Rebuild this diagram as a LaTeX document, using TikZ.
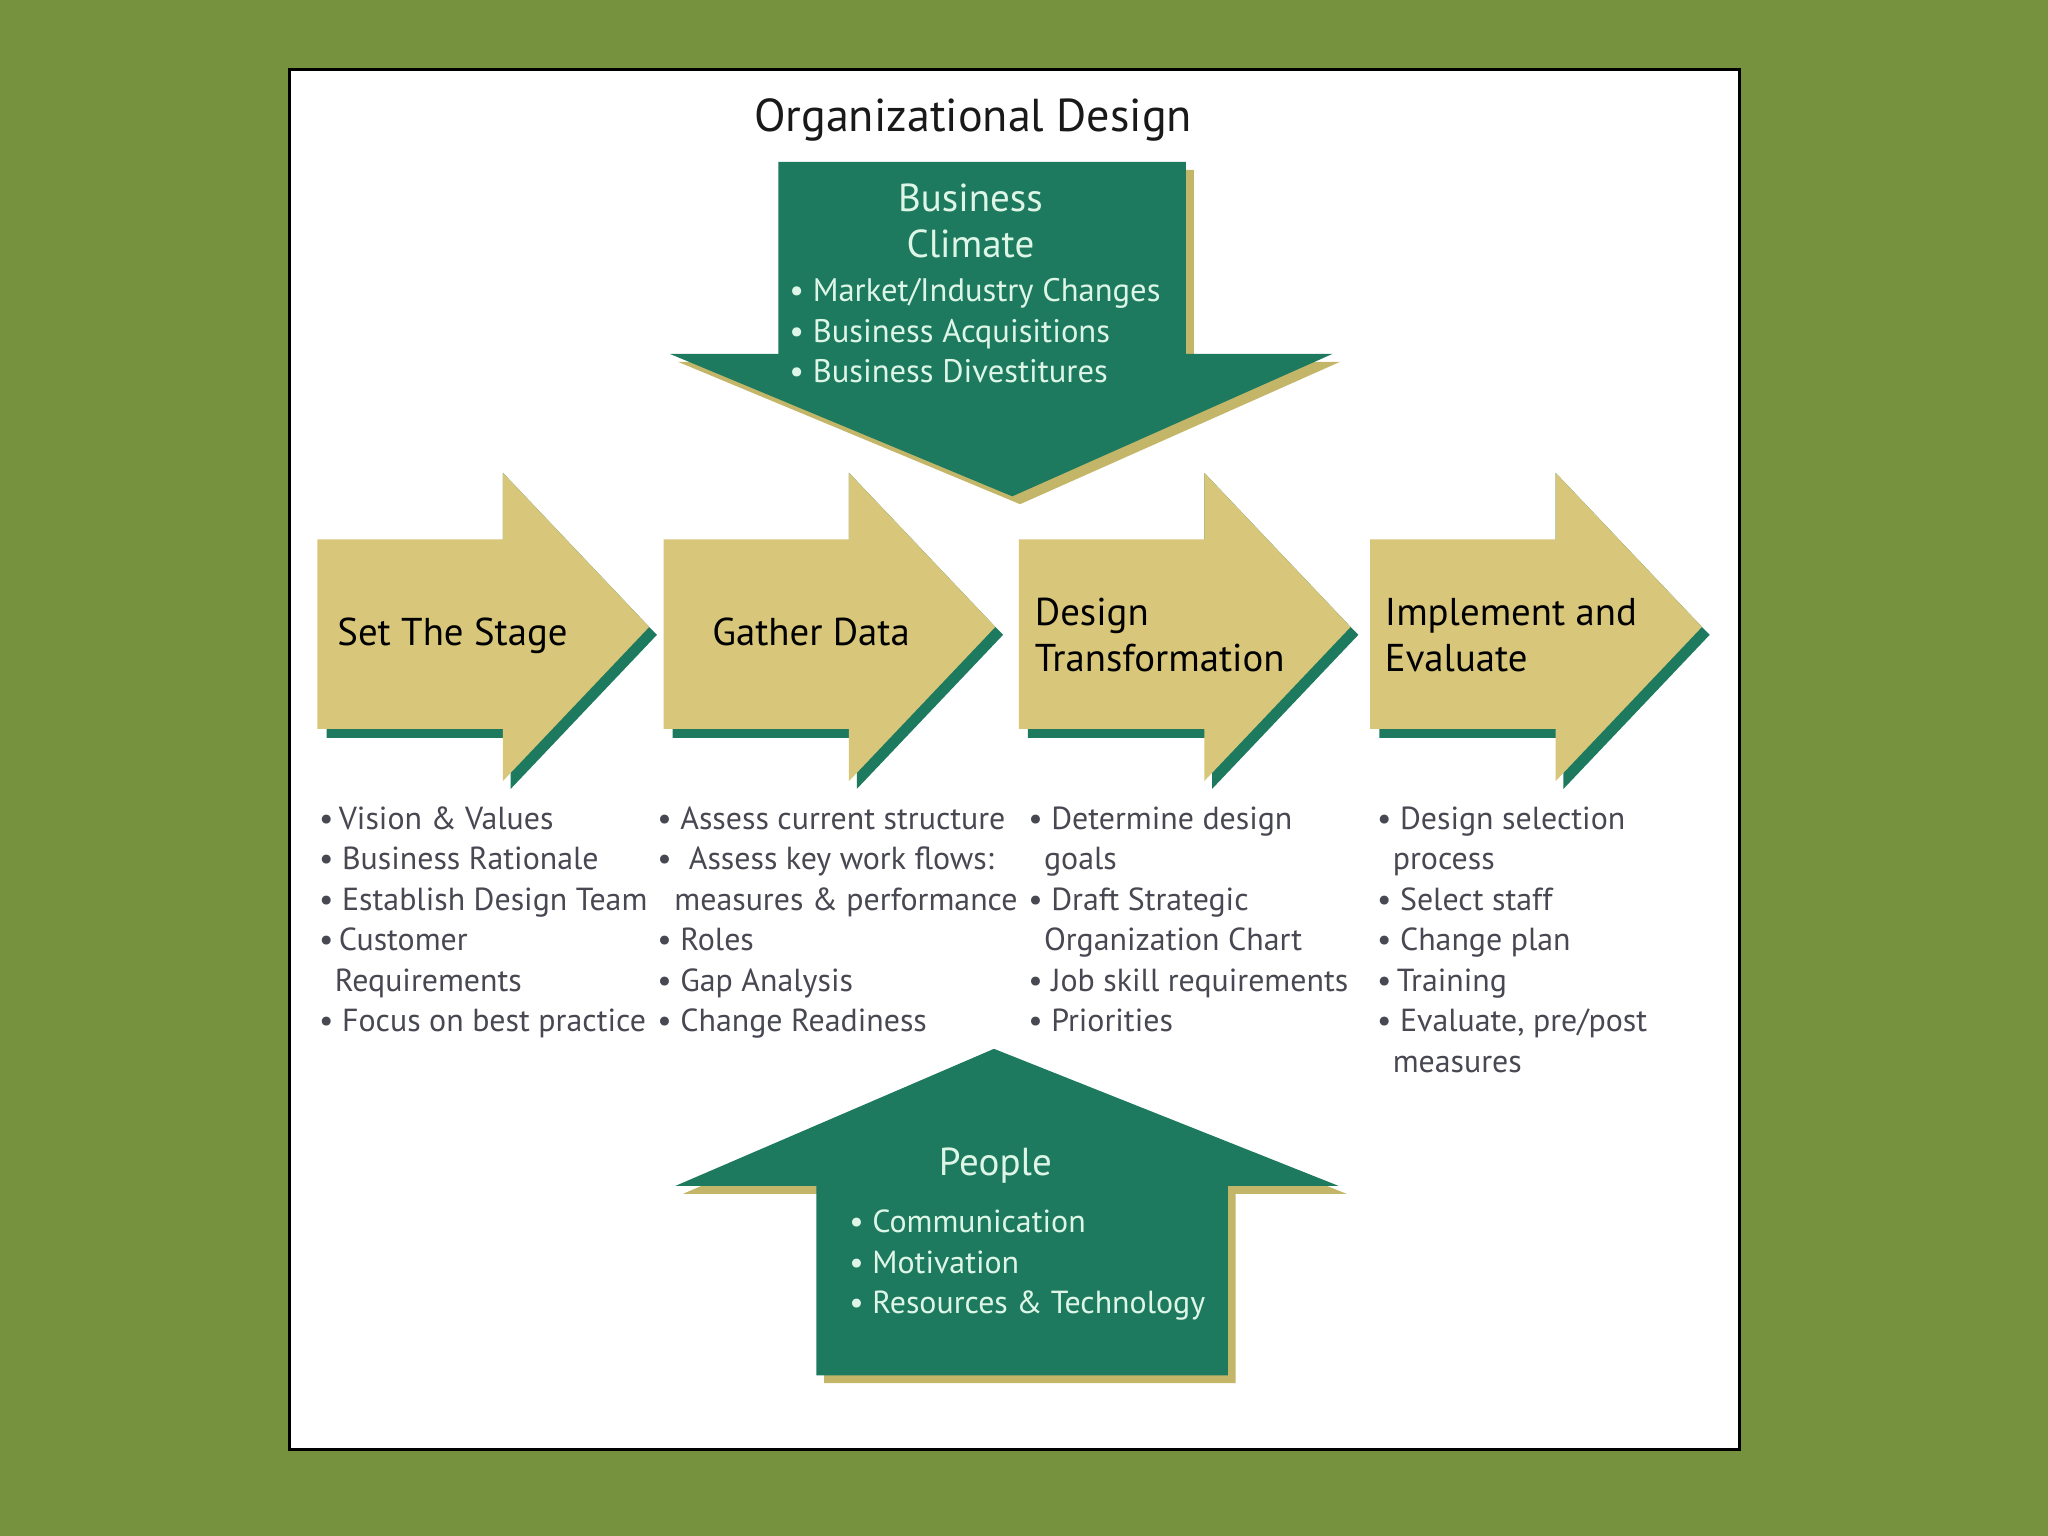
\documentclass[tikz,border=0pt]{standalone}
\usepackage{fontspec}
\setmainfont{PT Sans}
\definecolor{olivebg}{RGB}{119,146,62}
\definecolor{darkgreen}{RGB}{30,122,94}
\definecolor{tanfill}{RGB}{216,198,122}
\definecolor{tanshadow}{RGB}{196,182,104}
\definecolor{mint}{RGB}{222,246,232}
\definecolor{graytxt}{RGB}{72,72,82}
\begin{document}
\begin{tikzpicture}[x=0.02cm,y=-0.02cm,
  stagearrow/.style={fill=tanfill},
  stageshadow/.style={fill=darkgreen},
  forcearrow/.style={fill=darkgreen},
  forceshadow/.style={fill=tanshadow},
  stagelabel/.style={anchor=base west, inner sep=0pt, text=black, font=\fontsize{16.9}{19}\selectfont},
  listline/.style={anchor=base west, inner sep=0pt, text=graytxt, font=\fontsize{13.9}{16}\selectfont},
  forcehead/.style={anchor=base, inner sep=0pt, text=mint, font=\fontsize{17}{20}\selectfont},
  forceline/.style={anchor=base west, inner sep=0pt, text=mint, font=\fontsize{14.2}{17}\selectfont},
  peopleline/.style={anchor=base west, inner sep=0pt, text=mint, font=\fontsize{13.9}{17}\selectfont},
  titletext/.style={anchor=base, inner sep=0pt, text=black!90, font=\fontsize{20.1}{24}\selectfont}
]
% background and panel
\fill[olivebg] (0,0) rectangle (1568,1176);
\useasboundingbox (0,0) rectangle (1568,1176);
\draw[black, line width=1.3pt, fill=white] (222,53) rectangle (1332,1110);

% title
\node[titletext] (title) at (745,101) {Organizational Design};

% top force arrow (Business Climate)
\fill[forceshadow] (602,130) -- (914,130) -- (914,277) -- (1026,277) -- (781,386) -- (519,277) -- (602,277) -- cycle;
\fill[forcearrow] (596,124) -- (908,124) -- (908,271) -- (1020,271) -- (775,380) -- (513,271) -- (596,271) -- cycle;
\node[forcehead] (bc1) at (743,162) {Business};
\node[forcehead] (bc2) at (743,197) {Climate};
\node[forceline] (bc3) at (604,231) {• Market/Industry Changes};
\node[forceline] (bc4) at (604,262) {• Business Acquisitions};
\node[forceline] (bc5) at (604,293) {• Business Divestitures};

% stage arrows
\foreach \L in {243,508,780,1049}{
  \fill[stageshadow] (\L+142,362) -- (\L+254,480) -- (\L+260,486) -- (\L+148,604) -- (\L+148,565) -- (\L+7,565) -- (\L+7,419) -- (\L+142,419) -- cycle;
  \fill[stagearrow] (\L,413) -- (\L+142,413) -- (\L+142,362) -- (\L+254,480) -- (\L+142,598) -- (\L+142,558) -- (\L,558) -- cycle;
}
\node[stagelabel] (s1) at (258,494) {Set The Stage};
\node[stagelabel] (s2) at (545,494) {Gather Data};
\node[stagelabel] (s3a) at (792,479) {Design};
\node[stagelabel] (s3b) at (792,514) {Transformation};
\node[stagelabel] (s4a) at (1060,479) {Implement and};
\node[stagelabel] (s4b) at (1060,514) {Evaluate};

% column 1
\node[listline] (c1a) at (244,635) {•\,Vision \& Values};
\node[listline] (c1b) at (244,666) {• Business Rationale};
\node[listline] (c1c) at (244,697) {• Establish Design Team};
\node[listline] (c1d) at (244,728) {•\,Customer};
\node[listline] (c1e) at (256,759) {Requirements};
\node[listline] (c1f) at (244,790) {• Focus on best practice};
% column 2
\node[listline] (c2a) at (503,635) {• Assess current structure};
\node[listline] (c2b) at (503,666) {•\ \ Assess key work flows:};
\node[listline] (c2c) at (516,697) {measures \& performance};
\node[listline] (c2d) at (503,728) {• Roles};
\node[listline] (c2e) at (503,759) {• Gap Analysis};
\node[listline] (c2f) at (503,790) {• Change Readiness};
% column 3
\node[listline] (c3a) at (787,635) {• Determine design};
\node[listline] (c3b) at (799,666) {goals};
\node[listline] (c3c) at (787,697) {• Draft Strategic};
\node[listline] (c3d) at (799,728) {Organization Chart};
\node[listline] (c3e) at (787,759) {• Job skill requirements};
\node[listline] (c3f) at (787,790) {• Priorities};
% column 4
\node[listline] (c4a) at (1054,635) {• Design selection};
\node[listline] (c4b) at (1066,666) {process};
\node[listline] (c4c) at (1054,697) {• Select staff};
\node[listline] (c4d) at (1054,728) {• Change plan};
\node[listline] (c4e) at (1054,759) {•\,Training};
\node[listline] (c4f) at (1054,790) {• Evaluate, pre/post};
\node[listline] (c4g) at (1066,821) {measures};

% bottom force arrow (People)
\fill[forceshadow] (767,809) -- (1031,914) -- (946,914) -- (946,1059) -- (631,1059) -- (631,914) -- (523,914) -- cycle;
\fill[forcearrow] (761,803) -- (1025,908) -- (940,908) -- (940,1053) -- (625,1053) -- (625,908) -- (517,908) -- cycle;
\node[forcehead] (p1) at (762,900) {People};
\node[peopleline] (p2) at (650,944) {• Communication};
\node[peopleline] (p3) at (650,975) {• Motivation};
\node[peopleline] (p4) at (650,1006) {• Resources \& Technology};
\end{tikzpicture}
\end{document}
